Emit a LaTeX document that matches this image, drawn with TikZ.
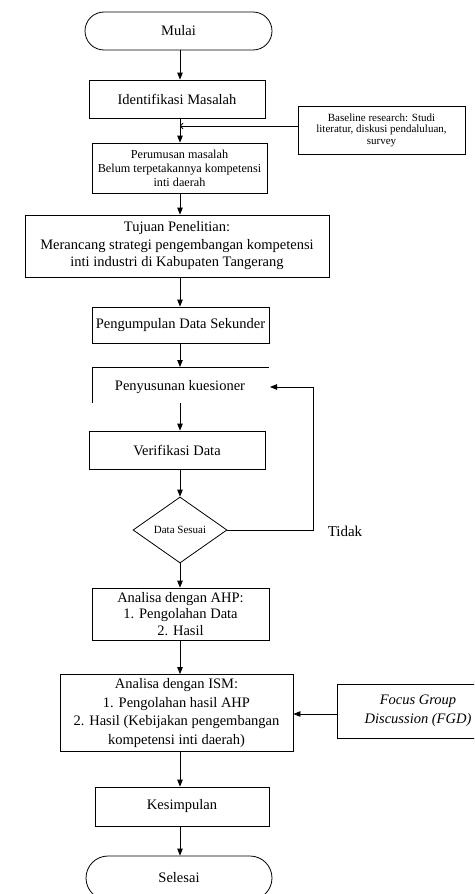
\documentclass[tikz,border=0pt]{standalone}
\usepackage{fontspec}
\setmainfont{Liberation Serif}
\usetikzlibrary{shapes.geometric,arrows.meta}
\begin{document}
\begin{tikzpicture}[x=1pt,y=-1pt,
  box/.style={draw,line width=0.8pt,inner sep=0pt,align=center},
  conn/.style={line width=0.8pt},
  arr/.style={line width=0.8pt,-{Triangle[length=7pt,width=5.5pt]}},
  big/.style={font=\fontsize{14.5}{17.5}\selectfont},
  mid/.style={font=\fontsize{12.2}{14}\selectfont},
  small/.style={font=\fontsize{11}{11.5}\selectfont}]
\useasboundingbox (0,0) rectangle (474,894);
\clip (0,0) rectangle (474,894);
\coordinate (col) at (180,0);
% nodes
\node[box,big,minimum width=187pt,minimum height=38pt,rounded corners=19pt] (mulai) at (178.5,31) {Mulai};
\node[box,big,minimum width=176pt,minimum height=38pt] (iden) at (177,99) {\raisebox{-4pt}{Identifikasi Masalah}};
\node[box,mid,minimum width=175pt,minimum height=50pt] (perum) at (179.5,168) {Perumusan masalah\\Belum terpetakannya kompetensi\\inti daerah};
\node[box,small,minimum width=167pt,minimum height=48pt] (base) at (381.5,130) {Baseline research: Studi\\literatur, diskusi pendaluluan,\\survey};
\node[box,big,minimum width=304pt,minimum height=62pt] (tuj) at (177,246) {Tujuan Penelitian:\\Merancang strategi pengembangan kompetensi\\inti industri di Kabupaten Tangerang};
\node[box,big,minimum width=177pt,minimum height=36pt] (peng) at (180.5,325) {Pengumpulan Data Sekunder};
\node[big] (peny) at (180,387) {Penyusunan kuesioner};
\coordinate (ptl) at (92,367);
\coordinate (ptr) at (269,367);
\coordinate (pbl) at (92,403);
\draw[conn] (pbl) -- (ptl) -- (ptr);
\node[box,big,minimum width=176pt,minimum height=38pt] (ver) at (177,450) {Verifikasi Data};
\node[draw,diamond,line width=0.8pt,minimum width=94pt,minimum height=66pt,inner sep=0pt,font=\fontsize{11}{12}\selectfont] (dia) at (180,530) {Data Sesuai};
\node[font=\fontsize{15}{17}\selectfont] (tidak) at (345,531) {Tidak};
\node[box,font=\fontsize{14.5}{16.5}\selectfont,minimum width=177pt,minimum height=52pt] (ahp) at (180.5,614) {Analisa dengan AHP:\\1. Pengolahan Data\\2. Hasil};
\node[box,font=\fontsize{14.5}{18.5}\selectfont,minimum width=233pt,minimum height=77pt] (ism) at (176.5,713) {Analisa dengan ISM:\\1. Pengolahan hasil AHP\\2. Hasil (Kebijakan pengembangan\\kompetensi inti daerah)};
\node[box,font=\fontsize{14.5}{19}\selectfont\itshape,minimum width=162pt,minimum height=54pt] (fgd) at (418,711) {Focus Group\\Discussion (FGD)};
\node[box,big,minimum width=174pt,minimum height=39pt] (kes) at (182,806.5) {Kesimpulan};
\node[box,big,minimum width=186pt,minimum height=44pt,rounded corners=22pt] (sel) at (179,878) {Selesai};
% connectors
\draw[arr] (mulai.south -| col) -- (iden.north -| col);
\draw[arr] (iden.south -| col) -- (perum.north -| col);
\draw[conn,-{Straight Barb[length=2.5pt,width=6pt]}] ([yshift=4pt]base.west) -- ([yshift=4pt]base.west -| col);
\draw[arr] (perum.south -| col) -- (tuj.north -| col);
\draw[arr] (tuj.south -| col) -- (peng.north -| col);
\draw[arr] (peng.south -| col) -- (ptl -| col);
\draw[arr] (pbl -| col) -- (ver.north -| col);
\draw[arr] (ver.south -| col) -- (dia.north);
\coordinate (loop) at (313,387);
\coordinate (pent) at (270,387);
\draw[arr] (dia.east) -| (loop) -- (pent);
\draw[arr] (dia.south) -- (ahp.north -| col);
\draw[arr] (ahp.south -| col) -- (ism.north -| col);
\draw[arr] ([yshift=-3pt]fgd.west) -- ([yshift=-3pt]fgd.west -| ism.east);
\draw[arr] (ism.south -| col) -- (kes.north -| col);
\draw[arr] (kes.south -| col) -- (sel.north -| col);
\end{tikzpicture}
\end{document}
